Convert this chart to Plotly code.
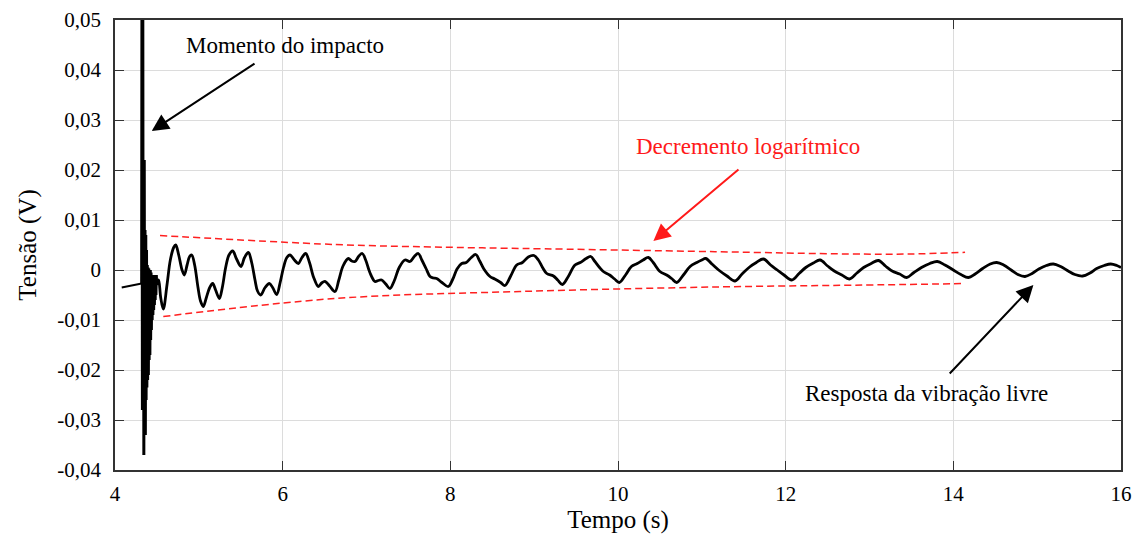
import plotly.graph_objects as go

# ---------------- data ----------------
# pre-impact baseline (time s, voltage V)
pre_t = [4.08, 4.318]
pre_v = [-0.0035, -0.0027]

# impact burst
impact_t = [4.318, 4.322, 4.327, 4.331, 4.336, 4.340, 4.344, 4.349,
            4.353, 4.358, 4.362, 4.367, 4.371, 4.376, 4.380, 4.385, 4.389, 4.394,
            4.398, 4.403, 4.407, 4.412, 4.416, 4.421, 4.425, 4.430, 4.434, 4.439,
            4.443, 4.448, 4.452, 4.457, 4.461, 4.466, 4.470, 4.475, 4.479, 4.484,
            4.488, 4.493, 4.497]
impact_v = [-0.0027, 0.065, -0.028, 0.065, -0.028, 0.022, -0.037, 0.022,
            -0.033, 0.008, -0.033, 0.007, -0.026, 0.004, -0.0235, 0.001, -0.022, 0.0005,
            -0.021, 0.0003, -0.018, 0.000, -0.017, 0.000, -0.014, -0.0005, -0.012, -0.001,
            -0.010, -0.001, -0.009, -0.001, -0.008, -0.001, -0.007, -0.002, -0.006, -0.002,
            -0.005, -0.001, -0.003]

# free-vibration response
resp_t = [4.497, 4.52, 4.545, 4.576, 4.62, 4.66, 4.70, 4.724, 4.76, 4.80, 4.827, 4.86,
          4.89, 4.915, 4.95, 4.99, 5.02, 5.053, 5.09, 5.13, 5.165, 5.20, 5.245, 5.28,
          5.32, 5.36, 5.404, 5.45, 5.503, 5.545, 5.591, 5.63, 5.67, 5.70, 5.738, 5.79,
          5.841, 5.88, 5.929, 5.97, 6.01, 6.05, 6.088, 6.14, 6.187, 6.23, 6.275, 6.32,
          6.37, 6.425, 6.465, 6.505, 6.56, 6.624, 6.67, 6.72, 6.783, 6.823, 6.863, 6.91,
          6.95, 6.99, 7.04, 7.101, 7.14, 7.181, 7.23, 7.28, 7.33, 7.39, 7.459, 7.519,
          7.57, 7.618, 7.66, 7.71, 7.758, 7.80, 7.837, 7.90, 7.976, 8.03, 8.08, 8.136,
          8.19, 8.25, 8.303, 8.35, 8.40, 8.473, 8.53, 8.60, 8.652, 8.72, 8.792, 8.86,
          8.93, 8.998, 9.05, 9.10, 9.15, 9.23, 9.28, 9.336, 9.40, 9.487, 9.55, 9.62,
          9.675, 9.72, 9.78, 9.825, 9.90, 9.96, 10.016, 10.09, 10.16, 10.23, 10.30, 10.362,
          10.42, 10.50, 10.58, 10.64, 10.70, 10.78, 10.86, 10.94, 11.00, 11.046, 11.12, 11.20,
          11.30, 11.396, 11.48, 11.57, 11.65, 11.734, 11.82, 11.90, 11.98, 12.072, 12.16, 12.24,
          12.33, 12.41, 12.50, 12.58, 12.67, 12.76, 12.85, 12.93, 13.02, 13.106, 13.19, 13.27,
          13.36, 13.444, 13.53, 13.62, 13.72, 13.809, 13.90, 14.00, 14.09, 14.18, 14.26, 14.35,
          14.44, 14.518, 14.60, 14.69, 14.77, 14.855, 14.94, 15.02, 15.11, 15.193, 15.28, 15.37,
          15.45, 15.543, 15.63, 15.71, 15.80, 15.878, 15.95, 16.0]
resp_v = [-0.0030, -0.0020, -0.0055, -0.0078, -0.0030, 0.0020, 0.0045, 0.0050, 0.0030, 0.0000, -0.0010, 0.0010,
          0.0027, 0.0030, 0.0010, -0.0035, -0.0062, -0.0073, -0.0055, -0.0035, -0.0027, -0.0040, -0.0057, -0.0035,
          0.0005, 0.0030, 0.0038, 0.0022, 0.0007, 0.0025, 0.0035, 0.0015, -0.0020, -0.0042, -0.0050, -0.0035,
          -0.0027, -0.0035, -0.0049, -0.0025, 0.0005, 0.0025, 0.0030, 0.0020, 0.0013, 0.0025, 0.0033, 0.0015,
          -0.0015, -0.0033, -0.0026, -0.0023, -0.0032, -0.0043, -0.0020, 0.0008, 0.0023, 0.0018, 0.0017, 0.0028,
          0.0033, 0.0020, -0.0005, -0.0023, -0.0021, -0.0020, -0.0028, -0.0037, -0.0022, 0.0005, 0.0020, 0.0017,
          0.0027, 0.0033, 0.0020, 0.0003, -0.0013, -0.0016, -0.0017, -0.0025, -0.0033, -0.0018, 0.0002, 0.0013,
          0.0015, 0.0025, 0.0031, 0.0018, 0.0002, -0.0013, -0.0018, -0.0025, -0.0031, -0.0012, 0.0010, 0.0015,
          0.0026, 0.0029, 0.0020, 0.0005, -0.0007, -0.0012, -0.0020, -0.0029, -0.0015, 0.0010, 0.0015, 0.0023,
          0.0027, 0.0018, 0.0005, -0.0003, -0.0010, -0.0018, -0.0025, -0.0010, 0.0007, 0.0013, 0.0020, 0.0025,
          0.0015, -0.0003, -0.0010, -0.0017, -0.0025, -0.0010, 0.0007, 0.0015, 0.0020, 0.0023, 0.0012, 0.0000,
          -0.0012, -0.0022, -0.0008, 0.0006, 0.0015, 0.0022, 0.0010, 0.0000, -0.0010, -0.0020, -0.0007, 0.0005,
          0.0014, 0.0020, 0.0008, -0.0002, -0.0010, -0.0018, -0.0006, 0.0005, 0.0013, 0.0019, 0.0008, -0.0002,
          -0.0008, -0.0015, -0.0005, 0.0005, 0.0013, 0.0017, 0.0010, 0.0000, -0.0009, -0.0015, -0.0008, 0.0003,
          0.0012, 0.0015, 0.0010, 0.0000, -0.0009, -0.0013, -0.0007, 0.0002, 0.0009, 0.0012, 0.0007, -0.0002,
          -0.0009, -0.0012, -0.0006, 0.0003, 0.0009, 0.0012, 0.0009, 0.0005]

# logarithmic-decrement envelopes
env_up_t = [4.537, 6.624, 7.996, 8.891, 11.157, 12.768, 13.484, 14.14]
env_up_v = [0.0069, 0.0051, 0.00454, 0.0043, 0.00366, 0.0032, 0.0032, 0.00354]
env_lo_t = [4.576, 6.624, 8.831, 11.157, 13.424, 14.14]
env_lo_v = [-0.0093, -0.0057, -0.0043, -0.0034, -0.0029, -0.0027]

x_ticks = [4, 6, 8, 10, 12, 14, 16]
x_ticklabels = ["4", "6", "8", "10", "12", "14", "16"]
y_ticks = [-0.04, -0.03, -0.02, -0.01, 0.0, 0.01, 0.02, 0.03, 0.04, 0.05]
y_ticklabels = ["-0,04", "-0,03", "-0,02", "-0,01", "0", "0,01", "0,02", "0,03", "0,04", "0,05"]

FONT = "Liberation Serif, Times New Roman, serif"

fig = go.Figure()
fig.add_trace(go.Scatter(x=env_up_t, y=env_up_v, mode="lines", line_shape="spline",
                         line=dict(color="#ff2020", width=1.5, dash="7px,4px"), hoverinfo="skip"))
fig.add_trace(go.Scatter(x=env_lo_t, y=env_lo_v, mode="lines", line_shape="spline",
                         line=dict(color="#ff2020", width=1.5, dash="7px,4px"), hoverinfo="skip"))
fig.add_trace(go.Scatter(x=pre_t, y=pre_v, mode="lines",
                         line=dict(color="black", width=1.8)))
fig.add_trace(go.Scatter(x=impact_t, y=impact_v, mode="lines",
                         line=dict(color="black", width=3)))
fig.add_trace(go.Scatter(x=resp_t, y=resp_v, mode="lines", line_shape="spline",
                         line=dict(color="black", width=2.8, smoothing=1.0)))

# text labels
fig.add_annotation(x=6.028, y=0.0450, text="Momento do impacto", showarrow=False,
                   font=dict(family=FONT, size=23, color="black"))
fig.add_annotation(x=11.551, y=0.0248, text="Decremento logarítmico", showarrow=False,
                   font=dict(family=FONT, size=23, color="#ff1a1a"))
fig.add_annotation(x=13.675, y=-0.0246, text="Resposta da vibração livre", showarrow=False,
                   font=dict(family=FONT, size=23, color="black"))

# arrows
fig.add_annotation(x=4.438, y=0.0278, ax=5.682, ay=0.04146, axref="x", ayref="y",
                   xref="x", yref="y", text="", showarrow=True, arrowhead=2,
                   arrowsize=1.7, arrowwidth=2, arrowcolor="black")
fig.add_annotation(x=10.422, y=0.0058, ax=11.455, ay=0.02034, axref="x", ayref="y",
                   xref="x", yref="y", text="", showarrow=True, arrowhead=2,
                   arrowsize=1.7, arrowwidth=2, arrowcolor="#ff1a1a")
fig.add_annotation(x=14.955, y=-0.003, ax=13.94, ay=-0.021, axref="x", ayref="y",
                   xref="x", yref="y", text="", showarrow=True, arrowhead=2,
                   arrowsize=1.7, arrowwidth=2, arrowcolor="black")

axis_common = dict(showgrid=True, gridcolor="#dcdcdc", gridwidth=1, zeroline=False,
                   ticks="inside", ticklen=9, tickwidth=1.2, tickcolor="#333333",
                   showline=True, linecolor="#333333", linewidth=1.5, mirror="ticks",
                   automargin=False,
                   tickfont=dict(family=FONT, size=21, color="black"))

fig.update_layout(
    width=1134, height=536,
    margin=dict(l=115, r=13, t=20, b=66),
    paper_bgcolor="white", plot_bgcolor="white",
    showlegend=False,
    font=dict(family=FONT, color="black"),
    xaxis=dict(range=[4, 16], tickvals=x_ticks, ticktext=x_ticklabels,
               ticklabelstandoff=4,
               title=dict(text="Tempo (s)", font=dict(family=FONT, size=25), standoff=4),
               **axis_common),
    yaxis=dict(range=[-0.04, 0.05], tickvals=y_ticks, ticktext=y_ticklabels,
               ticklabelstandoff=8,
               title=dict(text="Tensão (V)", font=dict(family=FONT, size=25), standoff=14),
               **axis_common),
)

fig.write_html("out.html")
